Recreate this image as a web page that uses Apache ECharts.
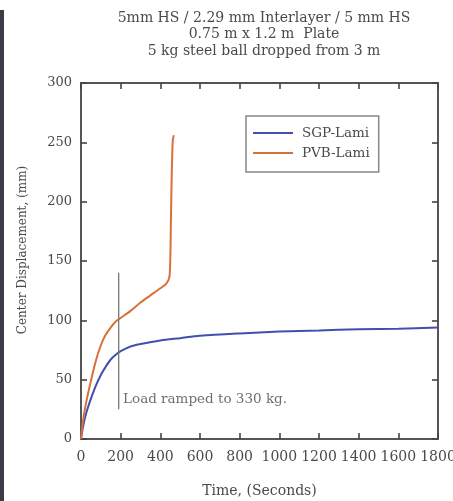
<!DOCTYPE html>
<html>
<head>
<meta charset="utf-8">
<script src="https://cdn.jsdelivr.net/npm/echarts@6/dist/echarts.min.js"></script>
<style>
  html, body { margin: 0; padding: 0; background: #fff; }
  #chart { width: 453px; height: 501px; }
</style>
</head>
<body>
<div id="chart"></div>
<script>
// Center displacement over time for two laminates
const titleLines = [
  '5mm HS / 2.29 mm Interlayer / 5 mm HS',
  '0.75 m x 1.2 m  Plate',
  '5 kg steel ball dropped from 3 m'
];
const xTicks = [0, 200, 400, 600, 800, 1000, 1200, 1400, 1600, 1800];
const yTicks = [0, 50, 100, 150, 200, 250, 300];

const sgpTime = [0, 10, 25, 50, 75, 100, 125, 150, 175, 200, 250, 300, 400, 500, 600, 800, 1000, 1200, 1400, 1600, 1800];
const sgpDisp = [0, 10, 21, 34, 45, 54, 61, 67, 71, 74, 78, 80, 83, 85, 87, 89, 90.5, 91.5, 92.5, 93, 94];

const pvbTime = [0, 10, 25, 50, 75, 100, 125, 150, 175, 200, 250, 300, 350, 400, 430, 445, 450, 453, 456, 460, 463, 468];
const pvbDisp = [0, 15, 30, 49, 66, 79, 88, 94, 99, 102, 108, 115, 121, 127, 131, 136, 150, 180, 210, 240, 252, 256];

const loadMarkTime = 190;
const loadMarkRange = [25, 140];
const loadLabel = 'Load ramped to 330 kg.';
const loadLabelPos = [212, 33];

const zip = (a, b) => a.map((v, i) => [v, b[i]]);
const serif = '"DejaVu Serif", "Liberation Serif", serif';
const textColor = '#4a4a4a';

const chart = echarts.init(document.getElementById('chart'), null, { renderer: 'canvas' });

const axisCommon = {
  axisLine: { show: true, onZero: false, lineStyle: { color: '#555', width: 2 } },
  axisTick: { show: true, inside: true, length: 6, lineStyle: { color: '#444', width: 1.6 } },
  splitLine: { show: false }
};

chart.setOption({
  animation: false,
  backgroundColor: '#fff',
  textStyle: { fontFamily: serif },
  title: {
    text: titleLines.join('\n'),
    left: 259, top: 5, textAlign: 'center',
    textStyle: { fontFamily: serif, fontSize: 14, fontWeight: 'normal', color: textColor, lineHeight: 16.5 }
  },
  grid: { left: 81, right: 15, top: 83, bottom: 62, outerBoundsMode: 'none', containLabel: false },
  legend: {
    orient: 'vertical', left: 246, top: 116,
    borderColor: '#888', borderWidth: 1.5,
    padding: [10, 9, 12, 7], itemGap: 6,
    itemWidth: 40, itemHeight: 14,
    icon: 'path://M0,6 L40,6 L40,8 L0,8 Z',
    textStyle: { fontFamily: serif, fontSize: 13.5, color: textColor, padding: [0, 0, 0, 4] },
    data: ['SGP-Lami', 'PVB-Lami']
  },
  xAxis: [{
    type: 'value', min: 0, max: 1800, interval: 200,
    name: 'Time, (Seconds)', nameLocation: 'middle', nameGap: 45,
    nameTextStyle: { fontFamily: serif, fontSize: 14, color: textColor },
    axisLabel: { fontFamily: serif, fontSize: 14, color: textColor, margin: 11, formatter: v => String(v) },
    ...axisCommon
  }, {
    type: 'value', min: 0, max: 1800, interval: 200, position: 'top',
    axisLabel: { show: false }, ...axisCommon
  }],
  yAxis: [{
    type: 'value', min: 0, max: 300, interval: 50,
    name: 'Center Displacement, (mm)', nameLocation: 'middle', nameGap: 52,
    nameTextStyle: { fontFamily: serif, fontSize: 12, color: textColor, padding: [0, 0, 0, 22] },
    axisLabel: { fontFamily: serif, fontSize: 13, color: textColor, margin: 9, formatter: v => String(v) },
    ...axisCommon
  }, {
    type: 'value', min: 0, max: 300, interval: 50, position: 'right',
    axisLabel: { show: false }, ...axisCommon
  }],
  graphic: [{
    type: 'rect', left: 0, top: 10,
    shape: { width: 4, height: 491 },
    style: { fill: '#3a3d45' }
  }],
  series: [
    {
      name: 'SGP-Lami', type: 'line', data: zip(sgpTime, sgpDisp),
      smooth: 0.3, showSymbol: false, color: '#4150b0',
      lineStyle: { width: 2, color: '#4150b0' }
    },
    {
      name: 'PVB-Lami', type: 'line', data: zip(pvbTime, pvbDisp),
      smooth: 0.3, showSymbol: false, color: '#d9703c',
      lineStyle: { width: 2, color: '#d9703c' }
    },
    {
      name: 'load', type: 'line',
      data: [[loadMarkTime, loadMarkRange[0]], [loadMarkTime, loadMarkRange[1]]],
      showSymbol: false, lineStyle: { width: 1.3, color: '#777' }
    },
    {
      name: 'loadText', type: 'scatter', data: [loadLabelPos], symbolSize: 0,
      label: {
        show: true, position: 'right', distance: 0, formatter: loadLabel,
        fontFamily: serif, fontSize: 13.5, color: textColor
      }
    }
  ]
});
</script>
</body>
</html>
